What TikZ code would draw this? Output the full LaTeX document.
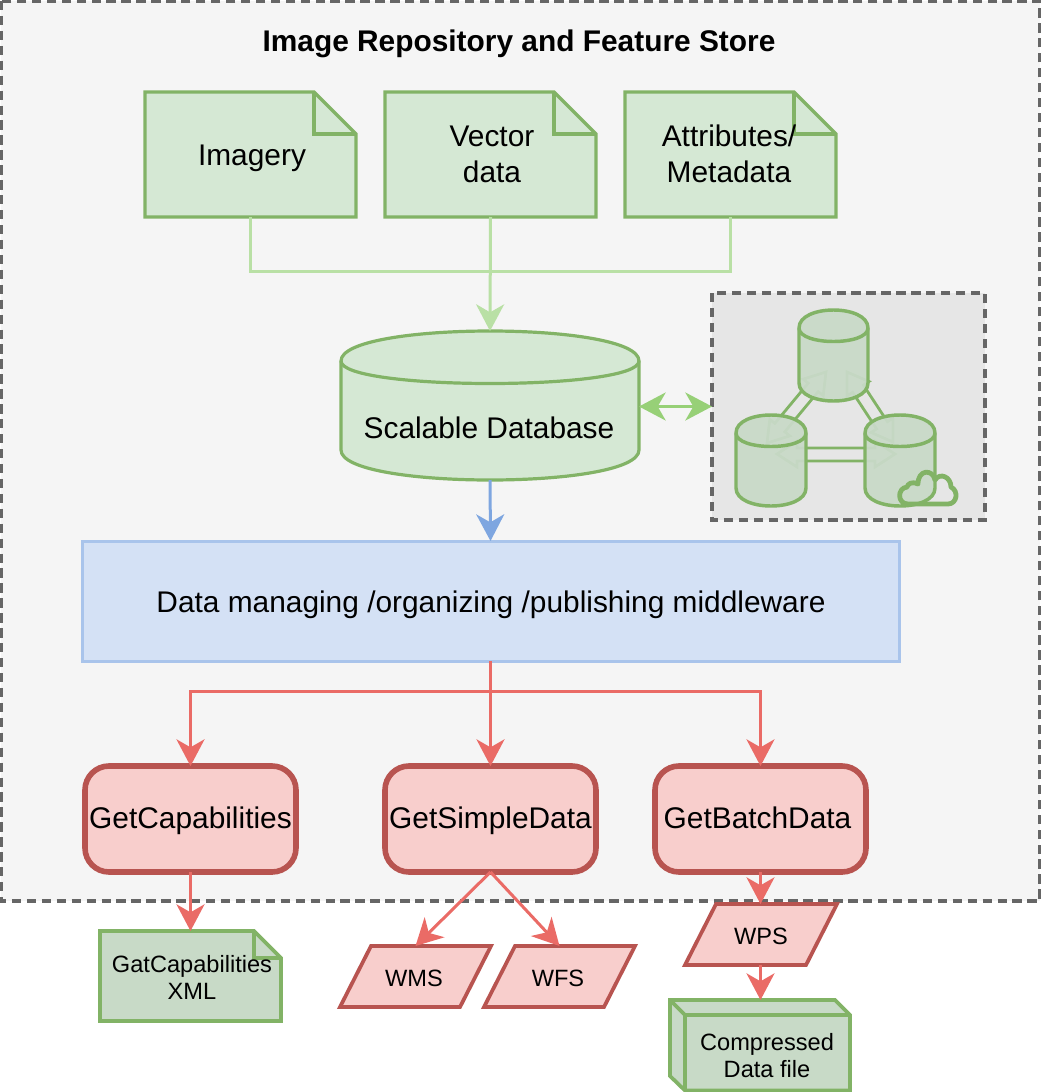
\documentclass[tikz,border=0pt]{standalone}
\usepackage{fontspec}
\setmainfont{Liberation Sans}
\usetikzlibrary{arrows.meta,calc}
\definecolor{bgF}{HTML}{F5F5F5}
\definecolor{dashS}{HTML}{666666}
\definecolor{groupF}{HTML}{E6E6E6}
\definecolor{greenF}{HTML}{D5E8D4}
\definecolor{greenD}{HTML}{C8DAC7}
\definecolor{greenS}{HTML}{82B366}
\definecolor{blueF}{HTML}{D4E1F5}
\definecolor{blueS}{HTML}{A9C4EB}
\definecolor{redF}{HTML}{F8CECC}
\definecolor{redS}{HTML}{B85450}
\definecolor{arrLG}{HTML}{B9E0A5}
\definecolor{arrG}{HTML}{97D077}
\definecolor{arrB}{HTML}{7EA6E0}
\definecolor{arrR}{HTML}{EA6B66}
\tikzset{
  px/.style={x=0.75pt,y=-0.75pt},
  lbl/.style={inner sep=0pt,outer sep=0pt,align=center,text=black},
  big/.style={lbl,font=\fontsize{22.4pt}{27pt}\selectfont},
  small/.style={lbl,font=\fontsize{17.7pt}{20.25pt}\selectfont},
  titlefont/.style={lbl,font=\fontsize{22.4pt}{27pt}\selectfont\bfseries},
  groupbox/.style={draw=dashS,line width=2.3pt,dash pattern=on 7pt off 4.2pt},
  greenshape/.style={draw=greenS,line width=2.4pt,fill=greenF,line join=miter},
  darkgreen/.style={draw=greenS,line width=2.8pt,fill=greenD,line join=miter},
  redshape/.style={draw=redS,line width=2.8pt,fill=redF,line join=miter},
  redround/.style={draw=redS,line width=4.2pt,fill=redF,rounded corners=18pt},
  bluebox/.style={draw=blueS,line width=2.25pt,fill=blueF},
  conn/.style={line width=2.25pt,-{Stealth[length=20pt,width=21pt,inset=6pt]}},
  plainconn/.style={line width=2.25pt},
  both/.style={line width=2.25pt,{Stealth[length=20pt,width=21pt,inset=6pt]}-{Stealth[length=20pt,width=21pt,inset=6pt]}},
  iconcyl/.style={draw=greenS,line width=2.6pt,fill=greenD!96!groupF,fill opacity=0.94},
  flex/.style={draw=greenS,line width=2.1pt,line join=miter},
}
\newcommand{\sized}[5]{\node[inner sep=0pt,outer sep=0pt,minimum width={(#4-#2)*0.75pt},minimum height={(#5-#3)*0.75pt}] (#1) at ({(#2+#4)/2},{(#3+#5)/2}) {};}
\newcommand{\notepath}[6]{%
  \draw[#1] (#2,#3) -- ({#4-#6},#3) -- (#4,{#3+#6}) -- (#4,#5) -- (#2,#5) -- cycle;
  \draw[#1,fill=none] ({#4-#6},#3) -- ({#4-#6},{#3+#6}) -- (#4,{#3+#6});}
\newcommand{\cylpath}[6]{%
  \draw[#1] (#2,{#3+#6}) .. controls (#2,{#3-#6/3}) and (#4,{#3-#6/3}) .. (#4,{#3+#6})
     -- (#4,{#5-#6}) .. controls (#4,{#5+#6/3}) and (#2,{#5+#6/3}) .. (#2,{#5-#6}) -- cycle;
  \draw[#1,fill=none] (#2,{#3+#6}) .. controls (#2,{#3+2*#6}) and (#4,{#3+2*#6}) .. (#4,{#3+#6});}
\newcommand{\paral}[6]{%
  \draw[redshape] (#1,#5) -- (#2,#5) -- (#4,#6) -- (#3,#6) -- cycle;}
\begin{document}
\begin{tikzpicture}[px]
\useasboundingbox (0,0) rectangle (1041,1092);
\fill[white] (0,0) rectangle (1041,1092);
\draw[groupbox,fill=bgF] (1,1) rectangle (1040,901);
\node[titlefont] (title) at (519,44) {Image Repository and Feature Store};
\notepath{greenshape}{145}{92}{356}{217}{42}
\notepath{greenshape}{385}{92}{596}{217}{42}
\notepath{greenshape}{625}{92}{836}{217}{42}
\sized{imgbox}{145}{92}{356}{217}
\sized{vecbox}{385}{92}{596}{217}
\sized{attbox}{625}{92}{836}{217}
\node[big] (imgtxt) at (252,158) {Imagery};
\node[big] (vectxt) at (492,154) {Vector\\data};
\node[big] (atttxt) at (729,154) {Attributes/\\Metadata};
\cylpath{greenshape}{341}{331}{639}{480}{30}
\sized{db}{341}{331}{639}{480}
\node[big] (dbtxt) at (489,428) {Scalable Database};
\draw[groupbox,fill=groupF] (712,293) rectangle (985,520);
\sized{icon}{712}{293}{985}{520}
\draw[flex] (777,454) -- (797,441) -- (797,448) -- (875,448) -- (875,441) -- (895,454) -- (875,467) -- (875,461) -- (797,461) -- (797,467) -- cycle;
\draw[flex] (826,372) -- (823.2,395.7) -- (818.2,391.6) -- (784.8,431.8) -- (789.8,435.9) -- (767,443) -- (769.8,419.3) -- (774.8,423.4) -- (808.2,383.2) -- (803.2,379.1) -- cycle;
\draw[flex] (847,372) -- (868.9,381.5) -- (863.4,385.1) -- (887.4,421.7) -- (892.9,418.1) -- (893,442) -- (871.1,432.5) -- (876.6,428.9) -- (852.6,392.3) -- (847.1,395.9) -- cycle;
\cylpath{iconcyl}{799}{310}{868}{401}{18}
\cylpath{iconcyl}{736}{415}{806}{506}{18}
\cylpath{iconcyl}{865}{415}{935}{506}{18}
\draw[draw=greenS,line width=3.6pt,line join=round]
  (908,504) -- (948,504) .. controls (957,504) and (959,491) .. (951,487)
  .. controls (951,477) and (940,472) .. (935,480)
  .. controls (933,469) and (918,469) .. (918,484)
  .. controls (911,481) and (908,484) .. (907,487)
  .. controls (897,488) and (897,504) .. (908,504) -- cycle;
\draw[bluebox] (82,541) rectangle (899,661);
\sized{mw}{82}{541}{899}{661}
\node[big] (mwtxt) at (491,605) {Data managing /organizing /publishing middleware};
\draw[redround] (85,766) rectangle (296,872);
\draw[redround] (385,766) rectangle (596,872);
\draw[redround] (655,766) rectangle (866,872);
\sized{cap}{85}{766}{296}{872}
\sized{sim}{385}{766}{596}{872}
\sized{bat}{655}{766}{866}{872}
\node[big] (captxt) at (190.5,821) {GetCapabilities};
\node[big] (simtxt) at (490.5,821) {GetSimpleData};
\node[big] (battxt) at (757.5,818) {GetBatchData};
\notepath{darkgreen}{100}{931}{281}{1021}{27}
\sized{xml}{100}{931}{281}{1021}
\node[small] (xmltxt) at (192,977.5) {GatCapabilities\\XML};
\paral{371}{491}{340}{460}{946}{1007}
\sized{wms}{340}{946}{491}{1007}
\node[small] (wmstxt) at (414,978) {WMS};
\paral{515}{635}{484}{604}{946}{1007}
\sized{wfs}{484}{946}{635}{1007}
\node[small] (wfstxt) at (558,978) {WFS};
\paral{716}{837}{685}{806}{904}{965}
\sized{wps}{684}{904}{837}{965}
\node[small] (wpstxt) at (761,936) {WPS};
\draw[darkgreen] (670,1000) -- (835,1000) -- (850,1015) -- (850,1090.5) -- (685,1090.5) -- (670,1076) -- cycle;
\draw[darkgreen,fill=none] (670,1000) -- (685,1015) -- (850,1015);
\draw[darkgreen,fill=none] (685,1015) -- (685,1090.5);
\sized{cube}{671}{1000}{850}{1091}
\node[small] (cubetxt) at (767,1055.5) {Compressed\\Data file};
\coordinate (join) at (490.5,271);
\coordinate (fork) at (490.5,691);
\draw[plainconn,arrLG] (imgbox.south) |- (join);
\draw[plainconn,arrLG] (attbox.south) |- (join);
\draw[conn,arrLG] (vecbox.south) -- (db.north);
\draw[both,arrG] (icon.west -| db.east) -- (icon.west);
\draw[conn,arrB] (db.south) -- (mw.north);
\draw[conn,arrR] (mw.south) -- (sim.north);
\draw[conn,arrR] (fork) -| (cap.north);
\draw[conn,arrR] (fork) -| (bat.north);
\draw[conn,arrR] (cap.south) -- (xml.north);
\draw[conn,arrR] (sim.south) -- (wms.north);
\draw[conn,arrR] (sim.south) -- (wfs.north);
\draw[conn,arrR] (bat.south) -- (wps.north);
\draw[conn,arrR] (wps.south) -- (cube.north);
\end{tikzpicture}
\end{document}
